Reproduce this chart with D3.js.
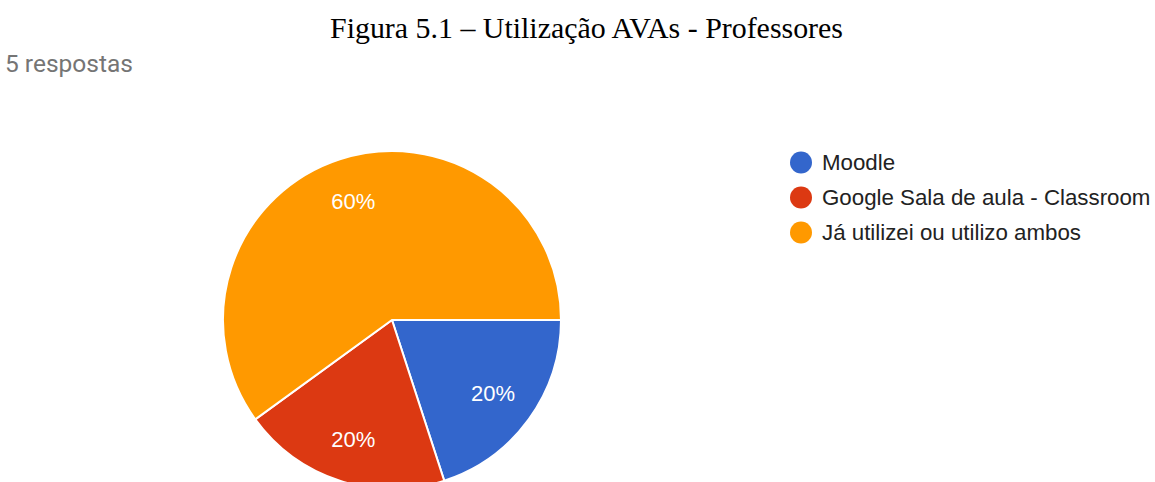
<!DOCTYPE html>
<html><head><meta charset="utf-8">
<script src="https://cdn.jsdelivr.net/npm/d3@7"></script>
<style>body{margin:0;background:#fff;}svg{display:block;}</style>
</head><body>
<script>
const categories = ["Moodle", "Google Sala de aula - Classroom", "Já utilizei ou utilizo ambos"];
const values = [1, 1, 3];
const colors = ["#3366cc", "#dc3912", "#ff9900"];
const title = "Figura 5.1 – Utilização AVAs - Professores";
const subtitle = "5 respostas";

const W = 1155, H = 482;
const svg = d3.select("body").append("svg").attr("width", W).attr("height", H);

svg.append("text").attr("x", 330).attr("y", 38)
  .attr("font-family", "Liberation Serif, Times New Roman, serif").attr("font-size", 30)
  .attr("textLength", 513).attr("lengthAdjust", "spacingAndGlyphs")
  .attr("fill", "#000").text(title);
svg.append("text").attr("x", 5).attr("y", 71.5)
  .attr("font-family", "Roboto, sans-serif").attr("font-size", 24.5)
  .attr("fill", "#757575").text(subtitle);

const cx = 392, cy = 320, r = 169;
const total = d3.sum(values);
const pie = d3.pie().sort(null).value(d => d).startAngle(Math.PI / 2).endAngle(Math.PI / 2 + 2 * Math.PI);
const arcs = pie(values);
const arc = d3.arc().innerRadius(0).outerRadius(r);
const labelArc = d3.arc().innerRadius(125).outerRadius(125);
const g = svg.append("g").attr("transform", `translate(${cx},${cy})`);
g.selectAll("path").data(arcs).join("path")
  .attr("d", arc).attr("fill", (d, i) => colors[i])
  .attr("stroke", "#fff").attr("stroke-width", 2);
g.selectAll("text").data(arcs).join("text")
  .attr("transform", d => `translate(${labelArc.centroid(d)})`)
  .attr("text-anchor", "middle").attr("dy", "0.35em")
  .attr("font-family", "Liberation Sans, Arial, sans-serif").attr("font-size", 22)
  .attr("fill", "#fff")
  .text(d => Math.round(d.data / total * 100) + "%");

const lg = svg.append("g");
categories.forEach((c, i) => {
  const y = 162.5 + i * 35;
  lg.append("circle").attr("cx", 801).attr("cy", y).attr("r", 11).attr("fill", colors[i]);
  lg.append("text").attr("x", 822).attr("y", y).attr("dy", "0.35em")
    .attr("font-family", "Liberation Sans, Arial, sans-serif").attr("font-size", 22.3)
    .attr("fill", "#222").text(c);
});
</script>
</body></html>
